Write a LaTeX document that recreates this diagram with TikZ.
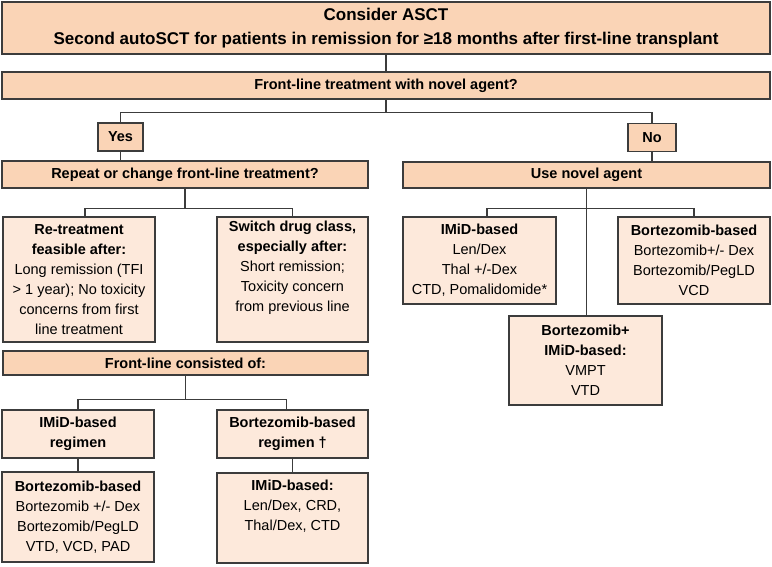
\documentclass[tikz,border=0pt]{standalone}
\usepackage{fontspec}
\setmainfont{Liberation Sans}
\definecolor{hdrfill}{HTML}{FAD4B6}
\definecolor{boxfill}{HTML}{FDE9DB}
\definecolor{edge}{HTML}{3C3C3C}
\tikzset{
  hdr/.style={draw=edge, fill=hdrfill, line width=1.1pt, inner sep=0pt, align=center,
    font=\bfseries\fontsize{14.5}{18}\selectfont},
  lbox/.style={draw=edge, fill=boxfill, line width=1.1pt, inner sep=0pt, align=center,
    font=\fontsize{14.5}{20}\selectfont},
  link/.style={draw=edge, line width=1.1pt},
}
\begin{document}
\begin{tikzpicture}[x=1pt,y=-1pt]
\useasboundingbox (0,0) rectangle (772,566);
% headers
\node[hdr, minimum width=768pt, minimum height=52pt, font=\bfseries\fontsize{17}{24}\selectfont] (top) at (386,28)
  {Consider ASCT\\Second autoSCT for patients in remission for ≥18 months after first-line transplant};
\node[hdr, minimum width=768pt, minimum height=27pt] (fl) at (386,85.5) {Front-line treatment with novel agent?};
\node[hdr, minimum width=45pt, minimum height=28pt] (yes) at (120.5,137) {Yes};
\node[hdr, minimum width=48pt, minimum height=28pt] (no) at (652,137.5) {No};
\node[hdr, minimum width=366pt, minimum height=27pt] (repeat) at (185,174.5) {Repeat or change front-line treatment?};
\node[hdr, minimum width=367pt, minimum height=26pt] (novel) at (586.5,175) {Use novel agent};
\node[hdr, minimum width=365pt, minimum height=24pt] (consisted) at (185.5,363) {Front-line consisted of:};
% left content boxes
\node[lbox, minimum width=152pt, minimum height=125pt] (retreat) at (79,279.5)
  {\textbf{Re-treatment}\\\textbf{feasible after:}\\Long remission (TFI\\> 1 year); No toxicity\\concerns from first\\line treatment};
\node[lbox, minimum width=151pt, minimum height=125pt] (switch) at (292.5,279.5)
  {\textbf{Switch drug class,}\\\textbf{especially after:}\\Short remission;\\Toxicity concern\\from previous line\\\strut};
\node[lbox, minimum width=152pt, minimum height=48pt] (imidreg) at (78,434)
  {\textbf{IMiD-based}\\\textbf{regimen}};
\node[lbox, minimum width=151pt, minimum height=48pt] (bortreg) at (292.5,434)
  {\textbf{Bortezomib-based}\\\textbf{regimen †}};
\node[lbox, minimum width=152pt, minimum height=90pt] (bortbased) at (78,517)
  {\textbf{Bortezomib-based}\\Bortezomib +/- Dex\\Bortezomib/PegLD\\VTD, VCD, PAD};
\node[lbox, minimum width=151pt, minimum height=90pt] (imidbased) at (292.5,518)
  {\textbf{IMiD-based:}\\Len/Dex, CRD,\\Thal/Dex, CTD\\\strut};
% right content boxes
\node[lbox, minimum width=153pt, minimum height=87pt] (nimid) at (479.5,260.5)
  {\textbf{IMiD-based}\\Len/Dex\\Thal +/-Dex\\CTD, Pomalidomide*};
\node[lbox, minimum width=152pt, minimum height=87pt] (nbort) at (694,260.5)
  {\textbf{Bortezomib-based}\\Bortezomib+/- Dex\\Bortezomib/PegLD\\VCD};
\node[lbox, minimum width=153pt, minimum height=89pt] (combo) at (585.5,360.5)
  {\textbf{Bortezomib+}\\\textbf{IMiD-based:}\\VMPT\\VTD};
% connectors
\draw[link] (top.south) -- (fl.north);
\draw[link] (fl.south) -- ++(0,13) -| (yes.north);
\draw[link] (fl.south) ++(0,13) -| (no.north);
\draw[link] (yes.south) -- (yes.south |- repeat.north);
\draw[link] (no.south) -- (no.south |- novel.north);
\draw[link] (repeat.south) -- ++(0,20) -| ([xshift=6pt]retreat.north);
\draw[link] (repeat.south) ++(0,20) -| (switch.north);
\draw[link] (consisted.south) -- ++(0,24) -| (imidreg.north);
\draw[link] (consisted.south) ++(0,24) -| ([xshift=-6pt]bortreg.north);
\draw[link] (imidreg.south) -- (imidreg.south |- bortbased.north);
\draw[link] (bortreg.south) -- (bortreg.south |- imidbased.north);
\draw[link] (novel.south) -- ++(0,20) -| ([xshift=7.5pt]nimid.north);
\draw[link] (novel.south) ++(0,20) -| (nbort.north);
\draw[link] (novel.south) -- (novel.south |- combo.north);
\end{tikzpicture}
\end{document}
